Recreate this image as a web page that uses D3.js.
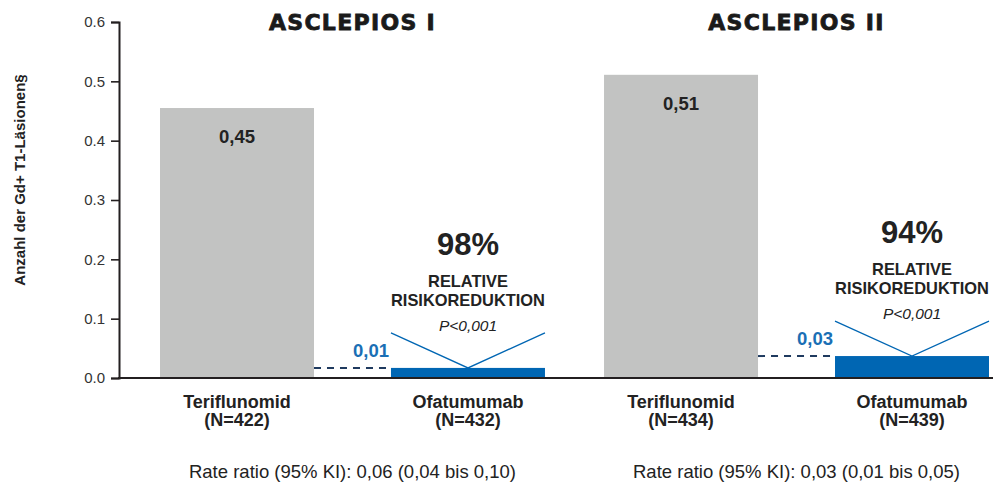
<!DOCTYPE html>
<html>
<head>
<meta charset="utf-8">
<script src="https://cdn.jsdelivr.net/npm/d3@7"></script>
<style>
  body { margin: 0; background: #fff; }
  text { font-family: "Liberation Sans", Arial, sans-serif; }
</style>
</head>
<body>
<svg width="1003" height="490"></svg>
<script>
const studies = ['ASCLEPIOS I', 'ASCLEPIOS II'];
const drugs = ['Teriflunomid', 'Ofatumumab'];
const patients = [[422, 432], [434, 439]];
const lesionRates = [[0.455, 0.017], [0.511, 0.037]];
const valueLabels = [['0,45', '0,01'], ['0,51', '0,03']];
const reductions = ['98%', '94%'];
const rateRatios = ['Rate ratio (95% KI): 0,06 (0,04 bis 0,10)', 'Rate ratio (95% KI): 0,03 (0,01 bis 0,05)'];
const yTicks = [0, 0.1, 0.2, 0.3, 0.4, 0.5, 0.6];
const yAxisLabel = 'Anzahl der Gd+ T1-Läsionen§';

const svg = d3.select('svg');
const grey = '#c2c3c2';
const blue = '#0066b3';
const ink = '#231f20';

const yScale = d3.scaleLinear().domain([0, 0.6]).range([378, 22]);
const x0 = d3.scaleBand().domain(studies).range([160, 989]).paddingInner(0.133);
const x1 = d3.scaleBand().domain(drugs).range([0, x0.bandwidth()]).paddingInner(1 / 3);

const data = [];
studies.forEach((s, i) => drugs.forEach((d, j) => {
  data.push({ study: s, drug: d, value: lesionRates[i][j], label: valueLabels[i][j], n: patients[i][j] });
}));

// y axis
const yAxis = d3.axisLeft(yScale)
  .tickValues(yTicks)
  .tickFormat(d3.format('.1f'))
  .tickSize(8)
  .tickPadding(6);

const yAxisG = svg.append('g')
  .attr('transform', 'translate(119,0)')
  .call(yAxis);
yAxisG.select('.domain').attr('stroke', ink).attr('stroke-width', 2);
yAxisG.selectAll('.tick line').attr('stroke', ink).attr('stroke-width', 1.6);
yAxisG.selectAll('.tick text')
  .attr('fill', '#333')
  .style('font-size', '15px')
  .style('font-family', '"Liberation Sans", Arial, sans-serif');

svg.append('text')
  .attr('transform', `translate(25,180) rotate(-90)`)
  .attr('text-anchor', 'middle')
  .attr('font-size', '15px')
  .attr('font-weight', 'bold')
  .attr('fill', '#222')
  .text(yAxisLabel);

// bars
const bx = d => x0(d.study) + x1(d.drug);
svg.selectAll('.bar')
  .data(data)
  .join('rect')
  .attr('class', 'bar')
  .attr('x', bx)
  .attr('y', d => yScale(d.value))
  .attr('width', x1.bandwidth())
  .attr('height', d => yScale(0) - yScale(d.value))
  .attr('fill', d => d.drug === drugs[0] ? grey : blue);

// baseline
svg.append('line')
  .attr('x1', 118).attr('x2', 993)
  .attr('y1', yScale(0)).attr('y2', yScale(0))
  .attr('stroke', ink).attr('stroke-width', 2);

// grey bar labels
svg.selectAll('.val-grey')
  .data(data.filter(d => d.drug === drugs[0]))
  .join('text')
  .attr('x', d => bx(d) + x1.bandwidth() / 2)
  .attr('y', d => yScale(d.value) + 35)
  .attr('text-anchor', 'middle')
  .attr('font-size', '18.5px')
  .attr('font-weight', 'bold')
  .attr('fill', '#222')
  .text(d => d.label);

const blueBars = data.filter(d => d.drug === drugs[1]);

// dashed reference line from grey bar to blue bar
svg.selectAll('.dash')
  .data(blueBars)
  .join('line')
  .attr('x1', d => x0(d.study) + x1(drugs[0]) + x1.bandwidth())
  .attr('x2', bx)
  .attr('y1', d => yScale(d.value))
  .attr('y2', d => yScale(d.value))
  .attr('stroke', '#1f3a5f')
  .attr('stroke-width', 2)
  .attr('stroke-dasharray', '7,6');

svg.selectAll('.val-blue')
  .data(blueBars)
  .join('text')
  .attr('x', d => bx(d) - 2)
  .attr('y', d => yScale(d.value) - 11)
  .attr('text-anchor', 'end')
  .attr('font-size', '18.5px')
  .attr('font-weight', 'bold')
  .attr('fill', '#1a6fb5')
  .text(d => d.label);

// V shape over blue bars
svg.selectAll('.vee')
  .data(blueBars)
  .join('polyline')
  .attr('points', d => {
    const l = bx(d), r = l + x1.bandwidth(), m = (l + r) / 2, top = yScale(d.value);
    return `${l},${top - 35} ${m},${top} ${r},${top - 35}`;
  })
  .attr('fill', 'none')
  .attr('stroke', blue)
  .attr('stroke-width', 1.3);

// reduction annotation
const ann = svg.selectAll('.ann')
  .data(blueBars)
  .join('g')
  .attr('transform', d => `translate(${bx(d) + x1.bandwidth() / 2},${yScale(d.value)})`);
ann.append('text')
  .attr('y', -113)
  .attr('text-anchor', 'middle')
  .attr('font-size', '31px')
  .attr('font-weight', 'bold')
  .attr('fill', '#222')
  .text((d, i) => reductions[i]);
ann.append('text')
  .attr('y', -81)
  .attr('text-anchor', 'middle')
  .attr('font-size', '16.4px')
  .attr('font-weight', 'bold')
  .attr('fill', '#222')
  .text('RELATIVE');
ann.append('text')
  .attr('y', -62)
  .attr('text-anchor', 'middle')
  .attr('font-size', '16.4px')
  .attr('font-weight', 'bold')
  .attr('fill', '#222')
  .text('RISIKOREDUKTION');
ann.append('text')
  .attr('y', -37)
  .attr('text-anchor', 'middle')
  .attr('font-size', '15.5px')
  .attr('font-style', 'italic')
  .attr('fill', '#222')
  .text('P<0,001');

// category labels
const cat = svg.selectAll('.cat')
  .data(data)
  .join('text')
  .attr('text-anchor', 'middle')
  .attr('font-size', '18px')
  .attr('font-weight', 'bold')
  .attr('fill', '#222');
cat.append('tspan')
  .attr('x', d => bx(d) + x1.bandwidth() / 2)
  .attr('y', 408)
  .text(d => d.drug);
cat.append('tspan')
  .attr('x', d => bx(d) + x1.bandwidth() / 2)
  .attr('y', 426)
  .text(d => `(N=${d.n})`);

// study titles
svg.selectAll('.title')
  .data(studies)
  .join('text')
  .attr('x', d => x0(d) + x0.bandwidth() / 2)
  .attr('y', 30)
  .attr('text-anchor', 'middle')
  .attr('font-size', '22px')
  .attr('font-weight', 'bold')
  .attr('letter-spacing', '1.3px')
  .attr('fill', '#1a1a1a')
  .attr('stroke', '#1a1a1a')
  .attr('stroke-width', 0.8)
  .style('font-family', '"DejaVu Sans", Arial, sans-serif')
  .text(d => d);

// rate ratios
svg.selectAll('.rr')
  .data(studies)
  .join('text')
  .attr('x', d => x0(d) + x0.bandwidth() / 2)
  .attr('y', 478)
  .attr('text-anchor', 'middle')
  .attr('font-size', '18.5px')
  .attr('fill', '#222')
  .text((d, i) => rateRatios[i]);
</script>
</body>
</html>
